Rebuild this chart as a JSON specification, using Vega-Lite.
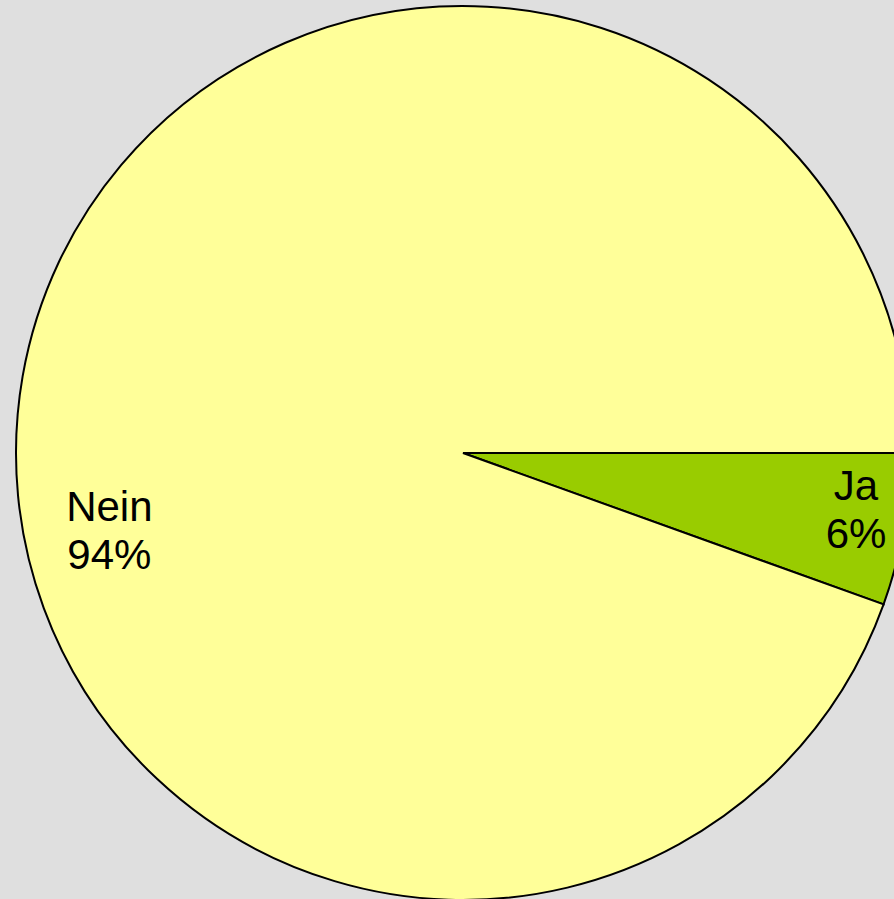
{
  "$schema": "https://vega.github.io/schema/vega-lite/v6.json",
  "width": 926,
  "height": 906,
  "autosize": {"type": "none"},
  "padding": 0,
  "background": "#DFDFDF",
  "config": {"view": {"stroke": null}},
  "data": {
    "values": [
      {"category": "Ja", "value": 5.5, "label": "Ja\n6%"},
      {"category": "Nein", "value": 94.5, "label": "Nein\n94%"}
    ]
  },
  "encoding": {
    "theta": {"field": "value", "type": "quantitative", "stack": true, "scale": {"range": [1.5707963, 7.8539816]}},
    "order": {"field": "category", "sort": "ascending"}
  },
  "layer": [
    {
      "mark": {"type": "arc", "outerRadius": 447, "stroke": "#000000", "strokeWidth": 2},
      "encoding": {
        "color": {
          "field": "category",
          "type": "nominal",
          "scale": {"domain": ["Ja", "Nein"], "range": ["#99CC00", "#FFFF99"]},
          "legend": null
        }
      }
    },
    {
      "transform": [{"filter": "datum.category === 'Nein'"}],
      "mark": {"type": "text", "radius": 360, "dy": 6, "dx": 1, "align": "center", "baseline": "alphabetic", "font": "Liberation Sans", "fontSize": 42, "lineHeight": 48, "lineBreak": "\n", "color": "#000000"},
      "encoding": {"text": {"field": "label"}}
    },
    {
      "transform": [{"filter": "datum.category === 'Ja'"}],
      "mark": {"type": "text", "radius": 400, "dy": -22, "dx": -1, "align": "center", "baseline": "alphabetic", "font": "Liberation Sans", "fontSize": 42, "lineHeight": 48, "lineBreak": "\n", "color": "#000000"},
      "encoding": {"text": {"field": "label"}}
    }
  ]
}
